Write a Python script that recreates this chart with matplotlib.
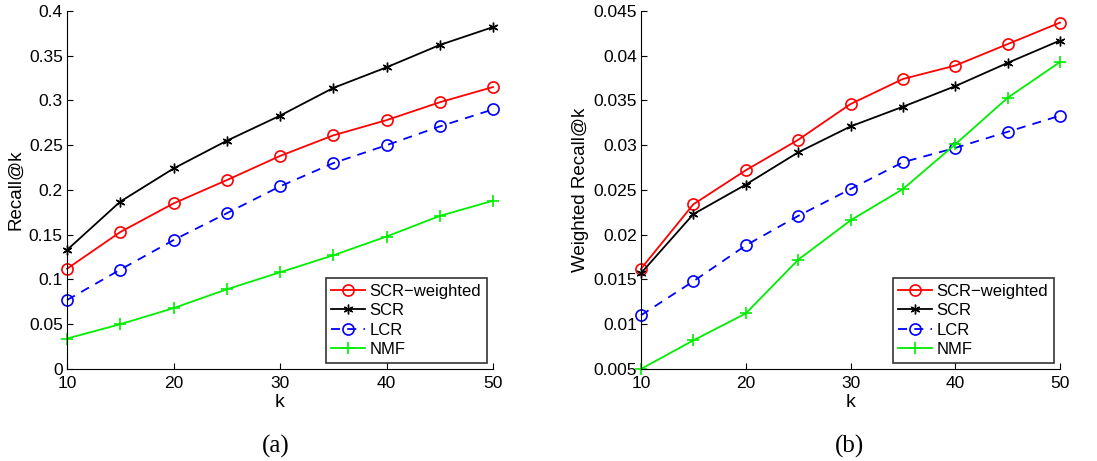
import matplotlib
matplotlib.use("Agg")
import matplotlib.pyplot as plt

k = [10, 15, 20, 25, 30, 35, 40, 45, 50]
labels = ["SCR\u2212weighted", "SCR", "LCR", "NMF"]

recall_scrw = [0.112, 0.153, 0.185, 0.211, 0.238, 0.261, 0.278, 0.298, 0.315]
recall_scr = [0.133, 0.187, 0.224, 0.255, 0.283, 0.314, 0.337, 0.362, 0.382]
recall_lcr = [0.077, 0.111, 0.144, 0.174, 0.204, 0.230, 0.250, 0.271, 0.290]
recall_nmf = [0.034, 0.050, 0.068, 0.089, 0.108, 0.127, 0.148, 0.171, 0.188]

wrecall_scrw = [0.0162, 0.0234, 0.0272, 0.0306, 0.0346, 0.0374, 0.0389, 0.0413, 0.0437]
wrecall_scr = [0.0157, 0.0223, 0.0256, 0.0292, 0.0321, 0.0343, 0.0366, 0.0392, 0.0417]
wrecall_lcr = [0.0110, 0.0148, 0.0188, 0.0221, 0.0251, 0.0281, 0.0297, 0.0315, 0.0333]
wrecall_nmf = [0.0050, 0.0082, 0.0112, 0.0172, 0.0216, 0.0251, 0.0301, 0.0353, 0.0393]

plt.rcParams['font.family'] = ['Liberation Sans', 'DejaVu Sans']
fig = plt.figure(figsize=(10.97, 4.61), dpi=100)
ax1 = fig.add_axes([0.0611, 0.1996, 0.3883, 0.7766])
ax2 = fig.add_axes([0.5843, 0.1996, 0.3820, 0.7766])

styles = [
    dict(color="#ff0000", linestyle="-", marker="o", markersize=8, markerfacecolor="none", markeredgewidth=1.2),
    dict(color="black", linestyle="-", marker=(6, 2, 0), markersize=7, markeredgewidth=1.0),
    dict(color="#0000ff", linestyle=(0, (5, 4)), marker="o", markersize=8, markerfacecolor="none", markeredgewidth=1.2),
    dict(color="#00ee00", linestyle="-", marker="+", markersize=9, markeredgewidth=1.2),
]

def draw(ax, series, ylim, yticks, yticklabels, ylabel):
    for s, lab, st in zip(series, labels, styles):
        ax.plot(k, s, label=lab, linewidth=1.3, clip_on=False, **st)
    ax.set_xlim(10, 50)
    ax.set_ylim(*ylim)
    ax.set_xticks([10, 20, 30, 40, 50])
    ax.set_yticks(yticks)
    ax.set_yticklabels(yticklabels)
    ax.minorticks_off()
    ax.spines['top'].set_visible(False)
    ax.spines['right'].set_visible(False)
    ax.tick_params(direction="in", labelsize=12.5, length=4)
    ax.tick_params(axis="x", pad=5)
    ax.tick_params(axis="y", pad=3)
    ax.set_xlabel("k", fontsize=14, labelpad=2)
    ax.set_ylabel(ylabel, fontsize=13.5, labelpad=3)
    leg = ax.legend(loc="lower right", fontsize=12, frameon=True, fancybox=False,
                    edgecolor="black", handlelength=2.0, borderaxespad=0.35,
                    labelspacing=0.27, handletextpad=0.3, borderpad=0.35)
    leg.get_frame().set_linewidth(1.2)

draw(ax1, [recall_scrw, recall_scr, recall_lcr, recall_nmf], (0, 0.4),
     [0, 0.05, 0.1, 0.15, 0.2, 0.25, 0.3, 0.35, 0.4],
     ["0", "0.05", "0.1", "0.15", "0.2", "0.25", "0.3", "0.35", "0.4"], "Recall@k")
draw(ax2, [wrecall_scrw, wrecall_scr, wrecall_lcr, wrecall_nmf], (0.005, 0.045),
     [0.005, 0.01, 0.015, 0.02, 0.025, 0.03, 0.035, 0.04, 0.045],
     ["0.005", "0.01", "0.015", "0.02", "0.025", "0.03", "0.035", "0.04", "0.045"], "Weighted Recall@k")

fig.text(276 / 1097, 1 - 446 / 461, "(a)", fontsize=18, family="Liberation Serif", ha="center", va="center")
fig.text(850 / 1097, 1 - 446 / 461, "(b)", fontsize=18, family="Liberation Serif", ha="center", va="center")

fig.savefig("out.png", dpi=100)
